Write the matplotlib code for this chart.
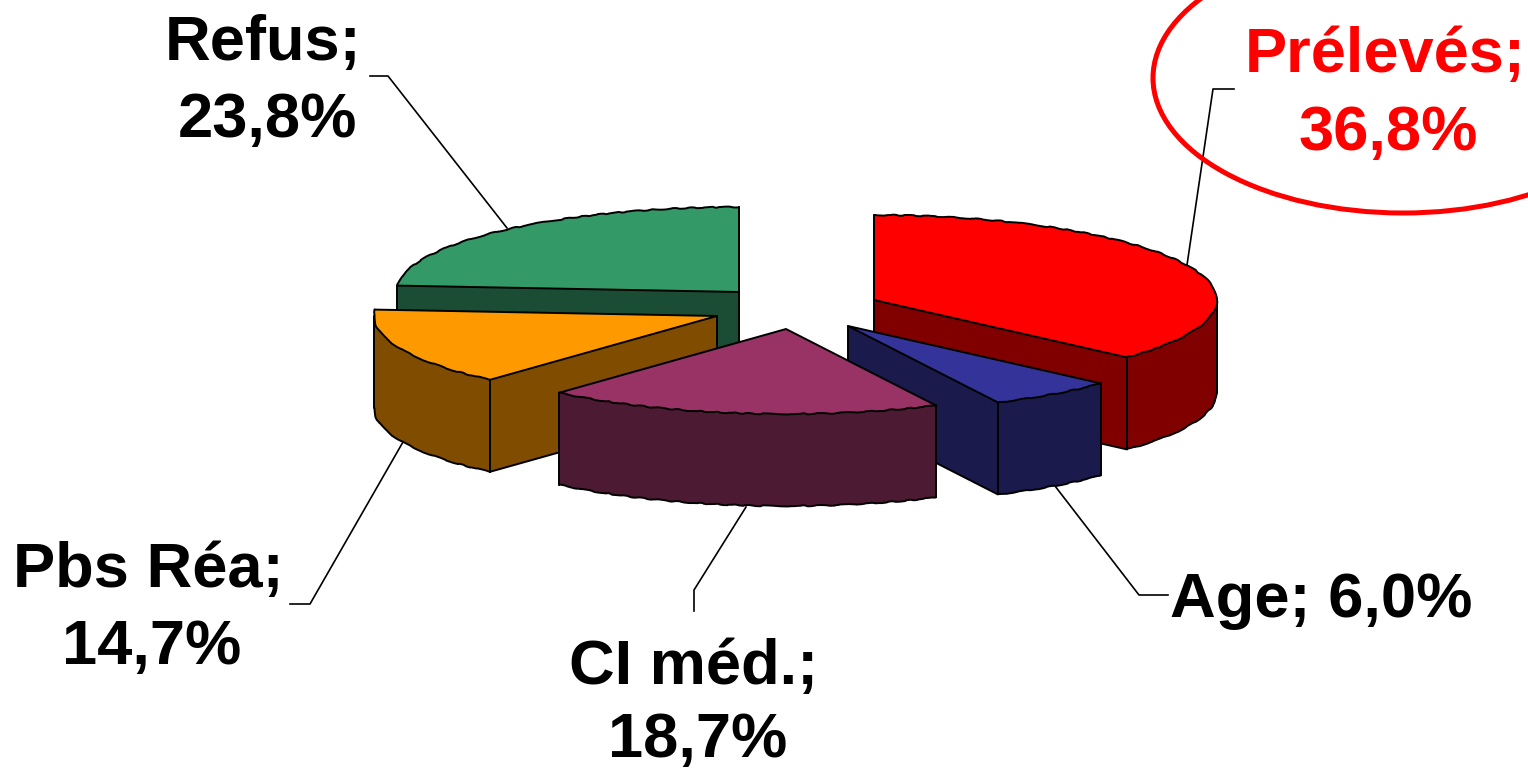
import numpy as np
import matplotlib
matplotlib.use("Agg")
import matplotlib.pyplot as plt
from matplotlib.patches import Ellipse

# values
names = ["Prélevés", "Age", "CI méd.", "Pbs Réa", "Refus"]
values = [36.8, 6.0, 18.7, 14.7, 23.8]

# colours
tops = ["#FF0000", "#333399", "#993366", "#FF9900", "#339966"]
sides = ["#800000", "#1A1A4D", "#4D1A33", "#804D00", "#1A4D33"]
text_colors = ["#FF0000", "#000000", "#000000", "#000000", "#000000"]

# layout, in pixels
apex_x = [874, 848, 786, 717, 739]
apex_y = [300, 326, 329, 316, 292]
rx = 343
ry = 85
depth = 92
line_w = 1.4

# one list of (x, baseline) for each line of the label
label_pos = [
    [(1385, 72), (1388, 150)],
    [(1321, 617)],
    [(694, 684), (698, 757)],
    [(148, 587), (152, 664)],
    [(263, 60), (267, 137)],
]
leaders = [
    [(1234, 89), (1213, 89), (1187, 265)],
    [(1168, 595), (1139, 595), (1055, 486)],
    [(694, 611), (694, 590), (746, 507)],
    [(290, 604), (310, 604), (403, 442)],
    [(370, 76), (388, 76), (507, 228)],
]


def rim(cx, cy, a, b):
    t = np.radians(np.linspace(a, b, max(int(abs(b - a) * 2), 2)))
    return cx + rx * np.sin(t), cy - ry * np.cos(t)


def edge(ax, x, y, rough=False):
    l, = ax.plot(x, y, color="black", lw=line_w, zorder=2, solid_capstyle="round")
    if rough:
        l.set_sketch_params(scale=0.5, length=40, randomness=8)


def draw_face(ax, x, y, color, rough=False):
    # x, y run along the top edge, the wall hangs below it
    px = np.concatenate([x, x[::-1]])
    py = np.concatenate([y, y[::-1] + depth])
    ax.fill(px, py, facecolor=color, edgecolor="none", zorder=2)
    edge(ax, [x[0], x[0]], [y[0], y[0] + depth])
    edge(ax, [x[-1], x[-1]], [y[-1], y[-1] + depth])
    edge(ax, x, y + depth, rough)


def draw_slice(ax, i, a, b):
    cx, cy = apex_x[i], apex_y[i]
    # cut faces, only those that look at the viewer
    if np.sin(np.radians(a)) < 0:
        x, y = rim(cx, cy, a, a)
        draw_face(ax, np.array([cx, x[0]]), np.array([cy, y[0]]), sides[i])
    if np.sin(np.radians(b)) > 0:
        x, y = rim(cx, cy, b, b)
        draw_face(ax, np.array([cx, x[0]]), np.array([cy, y[0]]), sides[i])
    # outer wall, front half of the ellipse
    a2, b2 = max(a, 90), min(b, 270)
    if a2 < b2:
        x, y = rim(cx, cy, a2, b2)
        draw_face(ax, x, y, sides[i], rough=True)
    # top
    x, y = rim(cx, cy, a, b)
    ax.fill(np.r_[cx, x], np.r_[cy, y], facecolor=tops[i], edgecolor="none", zorder=2)
    edge(ax, [x[0], cx, x[-1]], [y[0], cy, y[-1]])
    edge(ax, x, y, rough=True)


fig = plt.figure(figsize=(15.28, 7.69), dpi=100)
ax = fig.add_axes([0, 0, 1, 1])
ax.set_xlim(0, 1528)
ax.set_ylim(769, 0)
ax.axis("off")

ends = np.cumsum(values) / np.sum(values) * 360
starts = np.r_[0, ends[:-1]]

# back to front
for i in [4, 0, 3, 1, 2]:
    draw_slice(ax, i, starts[i], ends[i])

for pts in leaders:
    ax.plot([p[0] for p in pts], [p[1] for p in pts], color="black", lw=1.2, zorder=1)

for i in range(len(names)):
    val = ("%.1f%%" % values[i]).replace(".", ",")
    if len(label_pos[i]) == 1:
        lines = [names[i] + "; " + val]
    else:
        lines = [names[i] + ";", val]
    for s, (x, y) in zip(lines, label_pos[i]):
        ax.text(x, y, s, ha="center", va="baseline", color=text_colors[i],
                fontsize=45.5, fontweight="bold", family="Liberation Sans")

ax.add_patch(Ellipse((1403, 78), 500, 270, fill=False, edgecolor="#FF0000", lw=3.6, zorder=3))

fig.savefig("out.png", dpi=100)
